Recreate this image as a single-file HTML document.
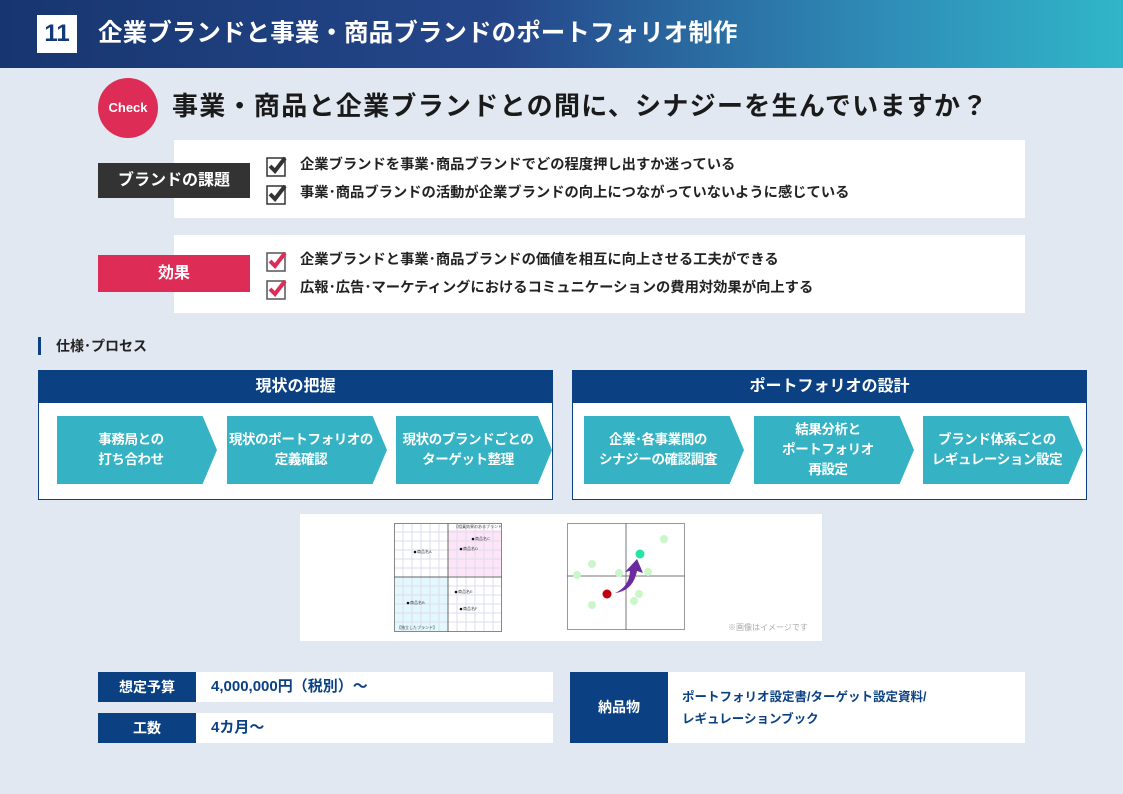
<!DOCTYPE html>
<html><head><meta charset="utf-8"><style>
*{margin:0;padding:0;box-sizing:border-box}
body{width:1123px;height:794px;background:#e1e8f1;position:relative;overflow:hidden;font-family:"Liberation Sans","Noto Sans CJK JP",sans-serif;color:#222}
.a{position:absolute}
.hdr{left:0;top:0;width:1123px;height:68px;background:linear-gradient(90deg,#173670 0%,#25478a 45%,#2f8fb8 80%,#30b6c9 100%)}
.num{left:37px;top:15px;width:40px;height:38px;background:#fff;color:#123a78;font-weight:bold;font-size:24px;text-align:center;line-height:38px}
.ht{left:98px;top:16px;color:#fff;font-weight:bold;font-size:24.5px;line-height:36px;letter-spacing:0.1px}
.chk{left:98px;top:78px;width:60px;height:60px;border-radius:50%;background:#dd2c55;color:#fff;font-size:13px;text-align:center;line-height:60px;font-weight:bold}
.q{left:172px;top:88px;font-size:26px;font-weight:bold;color:#1a1a1a;line-height:36px;letter-spacing:1.3px}
.box{background:#fff}
.lbl{color:#fff;font-weight:bold;font-size:16px;text-align:center}
.it{font-size:14.3px;font-weight:bold;color:#222;line-height:20px}
.ph{background:#0b4183;color:#fff;font-weight:bold;font-size:16px;text-align:center;line-height:33px}
.pn{border:1px solid #0b4183;background:#fff}
.ar{background:#35b2c3;color:#fff;font-weight:bold;font-size:13.5px;letter-spacing:-0.4px;text-align:center;display:flex;align-items:center;justify-content:center;line-height:20px;clip-path:polygon(0 0,91% 0,100% 50%,91% 100%,0 100%);padding-right:12px;white-space:nowrap}
.nl{background:#0b4183;color:#fff;font-weight:bold;font-size:14px;text-align:center}
.v{font-size:15px;font-weight:bold;color:#0b4183}
</style></head><body>
<div class="a hdr"></div>
<div class="a num">11</div>
<div class="a ht">企業ブランドと事業・商品ブランドのポートフォリオ制作</div>
<div class="a chk">Check</div>
<div class="a q">事業・商品と企業ブランドとの間に、シナジーを生んでいますか？</div>

<div class="a box" style="left:174px;top:140px;width:851px;height:78px"></div>
<div class="a lbl" style="left:98px;top:163px;width:152px;height:35px;line-height:35px;background:#333">ブランドの課題</div>
<svg class="a" style="left:266px;top:155px" width="24" height="50"><g fill="none" stroke="#333" stroke-width="1.5"><rect x="1" y="3" width="18" height="18" fill="#fff"/><rect x="1" y="31" width="18" height="18" fill="#fff"/></g><g fill="none" stroke="#333" stroke-width="4"><path d="M4 11l5 5 10-13"/><path d="M4 39l5 5 10-13"/></g></svg>
<div class="a it" style="left:300px;top:155px">企業ブランドを事業･商品ブランドでどの程度押し出すか迷っている</div>
<div class="a it" style="left:300px;top:183px">事業･商品ブランドの活動が企業ブランドの向上につながっていないように感じている</div>

<div class="a box" style="left:174px;top:235px;width:851px;height:78px"></div>
<div class="a lbl" style="left:98px;top:255px;width:152px;height:37px;line-height:37px;background:#dd2c55">効果</div>
<svg class="a" style="left:266px;top:250px" width="24" height="50"><g fill="none" stroke="#555" stroke-width="1.5"><rect x="1" y="3" width="18" height="18" fill="#fff"/><rect x="1" y="31" width="18" height="18" fill="#fff"/></g><g fill="none" stroke="#dd2c55" stroke-width="4"><path d="M4 11l5 5 10-13"/><path d="M4 39l5 5 10-13"/></g></svg>
<div class="a it" style="left:300px;top:250px">企業ブランドと事業･商品ブランドの価値を相互に向上させる工夫ができる</div>
<div class="a it" style="left:300px;top:278px">広報･広告･マーケティングにおけるコミュニケーションの費用対効果が向上する</div>

<div class="a" style="left:38px;top:337px;width:3px;height:18px;background:#0b4183"></div>
<div class="a" style="left:56px;top:337px;font-size:14px;font-weight:bold;line-height:18px">仕様･プロセス</div>

<div class="a pn" style="left:38px;top:370px;width:515px;height:130px"></div>
<div class="a ph" style="left:38px;top:370px;width:515px;height:33px">現状の把握</div>
<div class="a ar" style="left:57px;top:416px;width:160px;height:68px">事務局との<br>打ち合わせ</div>
<div class="a ar" style="left:227px;top:416px;width:160px;height:68px">現状のポートフォリオの<br>定義確認</div>
<div class="a ar" style="left:396px;top:416px;width:156px;height:68px">現状のブランドごとの<br>ターゲット整理</div>

<div class="a pn" style="left:572px;top:370px;width:515px;height:130px"></div>
<div class="a ph" style="left:572px;top:370px;width:515px;height:33px">ポートフォリオの設計</div>
<div class="a ar" style="left:584px;top:416px;width:160px;height:68px">企業･各事業間の<br>シナジーの確認調査</div>
<div class="a ar" style="left:754px;top:416px;width:160px;height:68px">結果分析と<br>ポートフォリオ<br>再設定</div>
<div class="a ar" style="left:923px;top:416px;width:160px;height:68px">ブランド体系ごとの<br>レギュレーション設定</div>

<div class="a box" style="left:300px;top:514px;width:522px;height:127px"></div>
<svg class="a" style="left:394px;top:523px" width="108" height="109">
<rect x="54" y="7" width="54" height="46" fill="#fde4f7"/><rect x="0" y="54" width="54" height="55" fill="#e3f8fd"/>
<g stroke="#dde" stroke-width="1">
<path d="M9 0V109M18 0V109M27 0V109M36 0V109M45 0V109M63 0V109M72 0V109M81 0V109M90 0V109M99 0V109M0 9H108M0 18H108M0 27H108M0 36H108M0 45H108M0 63H108M0 72H108M0 81H108M0 90H108M0 99H108"/></g>
<rect x="0.5" y="0.5" width="107" height="108" fill="none" stroke="#888"/>
<path d="M54 0V109M0 54H108" stroke="#666"/>
<g fill="#111"><circle cx="21" cy="29" r="1.3"/><circle cx="79" cy="16" r="1.3"/><circle cx="67" cy="26" r="1.3"/><circle cx="62" cy="69" r="1.3"/><circle cx="14" cy="80" r="1.3"/><circle cx="67" cy="86" r="1.3"/></g>
<g font-size="4" fill="#444"><text x="23" y="30">商品名A</text><text x="81" y="17">商品名C</text><text x="69" y="27">商品名D</text><text x="64" y="70">商品名E</text><text x="16" y="81">商品名B</text><text x="69" y="87">商品名F</text><text x="60" y="5">【相乗効果のあるブランド】</text><text x="3" y="106">【独立したブランド】</text></g>
</svg>
<svg class="a" style="left:567px;top:523px" width="119" height="108">
<rect x="0.5" y="0.5" width="117" height="106" fill="#fff" stroke="#999"/>
<path d="M59 0V107M0 53H118" stroke="#777"/>
<g fill="#c9f7c9"><circle cx="97" cy="16" r="4"/><circle cx="25" cy="41" r="4"/><circle cx="10" cy="52" r="4"/><circle cx="52" cy="50" r="4"/><circle cx="81" cy="49" r="4"/><circle cx="72" cy="71" r="4"/><circle cx="67" cy="78" r="4"/><circle cx="25" cy="82" r="4"/></g>
<circle cx="73" cy="31" r="4.5" fill="#25e5a0"/><circle cx="40" cy="71" r="4.5" fill="#c00010"/>
<path d="M48 70 Q62 64 63 48 L58 49 L70 36 L76 50 L70 48 Q66 68 48 70Z" fill="#6b2aa0"/>
</svg>
<div class="a" style="left:728px;top:622px;font-size:8px;color:#aaa">※画像はイメージです</div>

<div class="a nl" style="left:98px;top:672px;width:98px;height:30px;line-height:30px">想定予算</div>
<div class="a box v" style="left:196px;top:672px;width:357px;height:30px;line-height:30px;padding-left:15px">4,000,000円（税別）〜</div>
<div class="a nl" style="left:98px;top:713px;width:98px;height:30px;line-height:30px">工数</div>
<div class="a box v" style="left:196px;top:713px;width:357px;height:30px;line-height:30px;padding-left:15px">4カ月〜</div>
<div class="a nl" style="left:570px;top:672px;width:98px;height:71px;line-height:71px">納品物</div>
<div class="a box" style="left:668px;top:672px;width:357px;height:71px;padding:14px 0 0 14px;font-size:12.5px;font-weight:bold;color:#0b4183;line-height:22px">ポートフォリオ設定書/ターゲット設定資料/<br>レギュレーションブック</div>
</body></html>
